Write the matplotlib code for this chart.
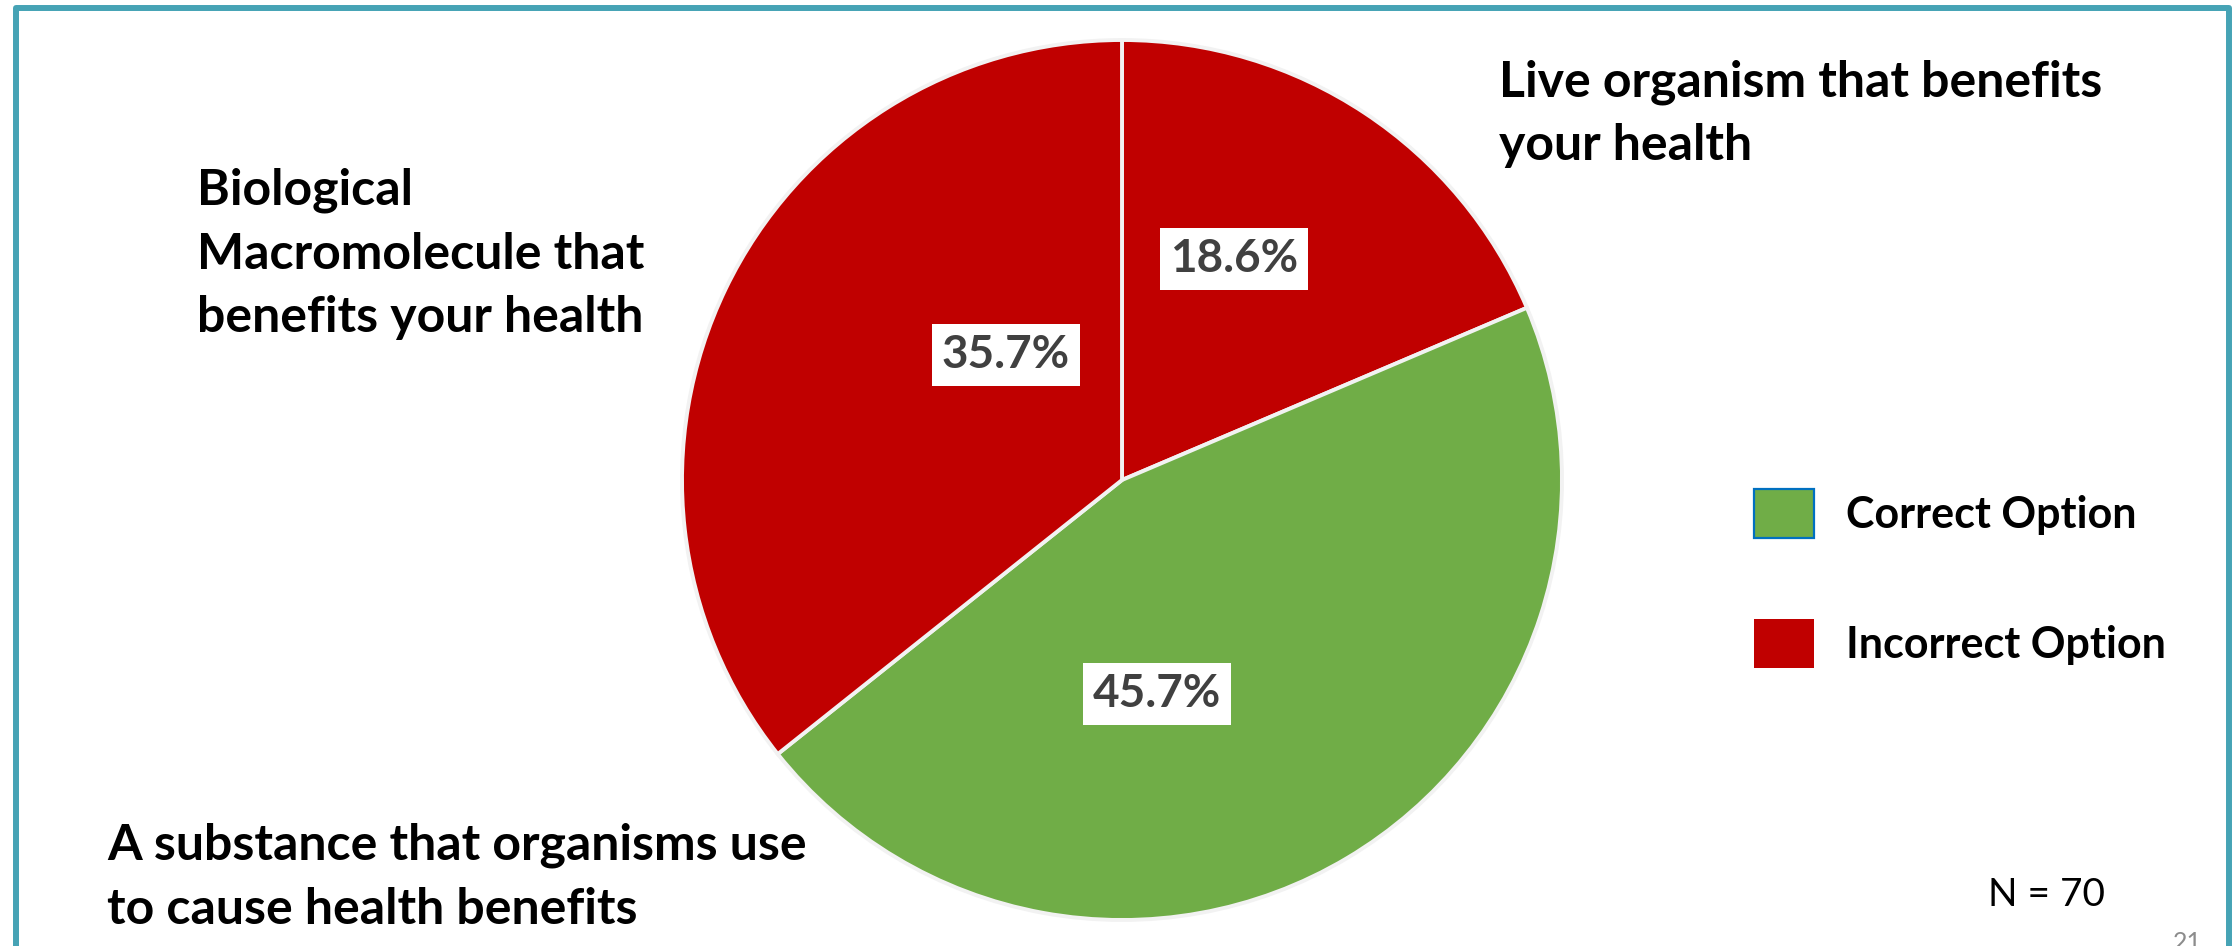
import matplotlib
matplotlib.use("Agg")
import matplotlib.pyplot as plt
from matplotlib.patches import Patch

# answer options, clockwise from 12 o'clock
labels = ["Live organism that benefits\nyour health",
          "A substance that organisms use\nto cause health benefits",
          "Biological\nMacromolecule that\nbenefits your health"]
shares = [18.6, 45.7, 35.7]
is_correct = [False, True, False]
legend_names = ["Correct Option", "Incorrect Option"]
n_total = 70
page_no = "21"

RED = "#C00000"
GREEN = "#70AD47"
TEAL = "#46A3B5"
W, H = 2239, 946

plt.rcParams["font.family"] = ["Lato", "DejaVu Sans"]

fig = plt.figure(figsize=(W / 100, H / 100), dpi=100)
ax = fig.add_axes([0, 0, 1, 1])

colors = [GREEN if c else RED for c in is_correct]
wedges, _ = ax.pie(shares, colors=colors, startangle=90, counterclock=False,
                   center=(1122, H - 480), radius=440,
                   wedgeprops=dict(edgecolor="#F2F2F2", linewidth=2.8))
ax.set_xlim(0, W)
ax.set_ylim(0, H)
ax.axis("off")

# percentage boxes (Excel put them by hand, so do we)
pct_pos = [(1234, 259), (1157, 694), (1006, 355)]
for v, (x, y) in zip(shares, pct_pos):
    ax.text(x, H - y, f"{v:.1f}%", ha="center", va="center", fontsize=33,
            fontweight="bold", color="#404040",
            bbox=dict(boxstyle="square,pad=0.22", fc="white", ec="none"))

# category labels outside the pie
lab_pos = [(1499, 114), (107, 877), (197, 254)]
for txt, (x, y) in zip(labels, lab_pos):
    ax.text(x, H - y, txt, ha="left", va="center", fontsize=36,
            fontweight="bold", color="black", linespacing=1.5)

handles = [Patch(fc=GREEN, ec="#0070C0", lw=1.6),
           Patch(fc=RED, ec=RED, lw=0)]
ax.legend(handles, legend_names, loc="upper left",
          bbox_to_anchor=(1754 / W, 1 - 489 / H), bbox_transform=fig.transFigure,
          frameon=False, borderpad=0, borderaxespad=0,
          handlelength=1.39, handleheight=1.39, handletextpad=0.75,
          labelspacing=1.86, prop=dict(family="Lato", weight="bold", size=31))

ax.text(2046, H - 895, f"N = {n_total}", ha="center", va="center",
        fontsize=28, color="black")
ax.text(2187, H - 931, page_no, ha="center", va="top", fontsize=18,
        color="#8C8C8C")

# slide frame
ax.plot([16, 16, 2229, 2229], [-10, H - 8.5, H - 8.5, -10], color=TEAL, lw=4.3,
        solid_joinstyle="round", clip_on=False)

fig.savefig("out.png", dpi=100)
